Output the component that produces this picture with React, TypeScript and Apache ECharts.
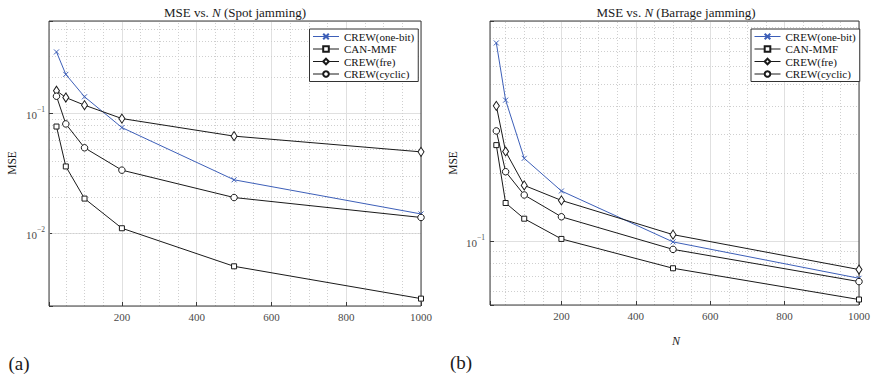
import React, { useEffect, useRef } from 'react';
import * as echarts from 'echarts';

// ---------- data ----------
const N = [25, 50, 100, 200, 500, 1000];
const seriesNames = ['CREW(one-bit)', 'CAN-MMF', 'CREW(fre)', 'CREW(cyclic)'];

// (a) Spot jamming
const spotOneBit = [0.326, 0.212, 0.138, 0.0765, 0.0281, 0.0146];
const spotCanMmf = [0.078, 0.0363, 0.0196, 0.0111, 0.00535, 0.00288];
const spotFre = [0.155, 0.136, 0.1175, 0.0909, 0.0649, 0.048];
const spotCyclic = [0.1395, 0.082, 0.0519, 0.0338, 0.02, 0.01365];

// (b) Barrage jamming
const barOneBit = [0.764, 0.425, 0.234, 0.1674, 0.0993, 0.0684];
const barCanMmf = [0.268, 0.148, 0.126, 0.1024, 0.0758, 0.055];
const barFre = [0.401, 0.251, 0.1773, 0.152, 0.107, 0.0748];
const barCyclic = [0.31, 0.204, 0.1607, 0.1285, 0.092, 0.0661];

// axis ranges and minor grid values
const xMin = [5, 8];
const xMax = [1000, 1000];
const yMin = [0.0025, 0.052];
const yMax = [0.59, 0.957];
const xMinorTicks = [50, 100, 150, 250, 300, 350, 450, 500, 550, 650, 700, 750, 850, 900, 950];
const spotMinorY = [0.003, 0.004, 0.005, 0.006, 0.007, 0.008, 0.009, 0.02, 0.03, 0.04, 0.05, 0.06, 0.07, 0.08, 0.09, 0.2, 0.3, 0.4, 0.5];
const barMinorY = [0.06, 0.07, 0.08, 0.09, 0.2, 0.3, 0.4, 0.5, 0.6, 0.7, 0.8, 0.9];

const FONT = 'Liberation Serif';
const BLUE = '#3d5fb8';
const BLACK = '#1a1a1a';
const AXIS = '#3a3a3a';
const TICKTEXT = '#4a4a4a';
const XPATH = 'path://M0,0L10,10M0,10L10,0';

const markerStyles = [
  { symbol: XPATH, size: 5, color: BLUE, fill: BLUE },
  { symbol: 'rect', size: 5, color: BLACK, fill: '#ffffff' },
  { symbol: 'diamond', size: [6, 9], color: BLACK, fill: '#ffffff' },
  { symbol: 'circle', size: 6.5, color: BLACK, fill: '#ffffff' },
];

function pow10Label(v: number): string {
  const e = Math.log10(v);
  const r = Math.round(e);
  if (Math.abs(e - r) > 1e-6) return '';
  return `{b|10}{s|${r < 0 ? '−' : ''}${Math.abs(r)}}`;
}

function makeSeries(name: string, values: number[], styleIdx: number, gridIdx: number) {
  const st = markerStyles[styleIdx];
  return {
    type: 'line',
    name,
    xAxisIndex: gridIdx,
    yAxisIndex: gridIdx,
    data: N.map((n, i) => [n, values[i]]),
    symbol: st.symbol,
    symbolSize: st.size,
    showAllSymbol: true,
    z: 3,
    lineStyle: { color: st.color, width: 1 },
    itemStyle: { color: st.fill, borderColor: st.color, borderWidth: 1 },
    emphasis: { disabled: true },
  };
}

function gridSeries(gridIdx: number, minorY: number[]) {
  return {
    type: 'line',
    name: '_minor' + gridIdx,
    xAxisIndex: gridIdx,
    yAxisIndex: gridIdx,
    data: [],
    silent: true,
    z: 1,
    markLine: {
      silent: true,
      z: 1,
      symbol: ['none', 'none'],
      label: { show: false },
      emphasis: { disabled: true },
      lineStyle: { color: '#cfcfcf', type: [1, 2], width: 1 },
      data: [
        ...xMinorTicks.map((v) => ({ xAxis: v })),
        ...minorY.map((v) => ({ yAxis: v })),
      ],
    },
  };
}

function xAxisCfg(i: number) {
  return {
    type: 'value',
    gridIndex: i,
    min: xMin[i],
    max: xMax[i],
    splitNumber: 5,
    axisLine: { show: false },
    axisTick: { show: true, inside: true, length: 4, lineStyle: { color: AXIS } },
    axisLabel: {
      margin: 5,
      color: TICKTEXT,
      fontFamily: FONT,
      fontSize: 11,
      formatter: (v: number) => (v % 200 === 0 ? String(v) : ''),
    },
    splitLine: { show: true, lineStyle: { color: '#e0e0e0', width: 1 } },
  };
}

function yAxisCfg(i: number, splitNumber: number) {
  return {
    type: 'log',
    logBase: 10,
    gridIndex: i,
    min: yMin[i],
    max: yMax[i],
    splitNumber,
    axisLine: { show: false },
    axisTick: { show: true, inside: true, length: 4, lineStyle: { color: AXIS } },
    axisLabel: {
      margin: i === 0 ? 4 : 5,
      color: TICKTEXT,
      fontFamily: FONT,
      formatter: pow10Label,
      rich: {
        b: { fontFamily: FONT, fontSize: 11, color: TICKTEXT, lineHeight: 14, verticalAlign: 'bottom' },
        s: { fontFamily: FONT, fontSize: 7.5, color: TICKTEXT, lineHeight: 14, padding: [0, 0, 7, 0], verticalAlign: 'bottom' },
      },
    },
    splitLine: { show: true, lineStyle: { color: '#e0e0e0', width: 1 } },
  };
}

function legendCfg(left: number) {
  return {
    data: seriesNames,
    orient: 'vertical',
    left,
    top: 29,
    padding: [2, 4, 2, 3],
    itemGap: 1.5,
    itemWidth: 26,
    itemHeight: 7,
    backgroundColor: '#ffffff',
    borderColor: '#333333',
    borderWidth: 1,
    borderRadius: 0,
    selectedMode: false,
    lineStyle: { width: 1 },
    textStyle: { fontFamily: FONT, fontSize: 11, color: '#111111', lineHeight: 11 },
  };
}

function titleText(x: number, kind: string) {
  return {
    type: 'text',
    x,
    y: 12,
    style: {
      text: `{a|MSE vs. }{i|N}{a| (${kind} jamming)}`,
      align: 'center',
      verticalAlign: 'middle',
      rich: {
        a: { fontFamily: FONT, fontSize: 13, fill: '#1a1a1a' },
        i: { fontFamily: FONT, fontSize: 13, fontStyle: 'italic', fill: '#1a1a1a' },
      },
    },
  };
}

function plainText(x: number, y: number, text: string, size: number, extra: any = {}) {
  return {
    type: 'text',
    x,
    y,
    ...extra,
    style: {
      text,
      fontFamily: FONT,
      fontSize: size,
      fill: '#1a1a1a',
      align: 'center',
      verticalAlign: 'middle',
      ...(extra.style || {}),
    },
  };
}

export default function App() {
  const ref = useRef<HTMLDivElement>(null);

  useEffect(() => {
    if (!ref.current) return;
    const chart = echarts.init(ref.current, null, { renderer: 'svg' });
    const option: any = {
      animation: false,
      backgroundColor: '#ffffff',
      textStyle: { fontFamily: FONT },
      grid: [
        { left: 49, top: 21, width: 372, height: 285, show: true, z: 2, backgroundColor: 'transparent', borderColor: AXIS, borderWidth: 1 },
        { left: 490, top: 21, width: 371, height: 284, show: true, z: 2, backgroundColor: 'transparent', borderColor: AXIS, borderWidth: 1 },
      ],
      xAxis: [xAxisCfg(0), xAxisCfg(1)],
      yAxis: [yAxisCfg(0, 2), yAxisCfg(1, 1)],
      legend: [legendCfg(309.5), legendCfg(751)],
      series: [
        gridSeries(0, spotMinorY),
        gridSeries(1, barMinorY),
        makeSeries(seriesNames[0], spotOneBit, 0, 0),
        makeSeries(seriesNames[1], spotCanMmf, 1, 0),
        makeSeries(seriesNames[2], spotFre, 2, 0),
        makeSeries(seriesNames[3], spotCyclic, 3, 0),
        makeSeries(seriesNames[0], barOneBit, 0, 1),
        makeSeries(seriesNames[1], barCanMmf, 1, 1),
        makeSeries(seriesNames[2], barFre, 2, 1),
        makeSeries(seriesNames[3], barCyclic, 3, 1),
      ],
      graphic: [
        titleText(235, 'Spot'),
        titleText(676, 'Barrage'),
        plainText(12, 163, 'MSE', 11.5, { rotation: Math.PI / 2 }),
        plainText(453, 163, 'MSE', 11.5, { rotation: Math.PI / 2 }),
        plainText(676, 341, 'N', 12, { style: { fontStyle: 'italic' } }),
        plainText(19, 363, '(a)', 19),
        plainText(461, 362, '(b)', 19),
      ],
    };
    chart.setOption(option);
    return () => chart.dispose();
  }, []);

  return (
    <div
      ref={ref}
      style={{ position: 'fixed', left: 0, top: 0, width: 873, height: 378, background: '#fff' }}
    />
  );
}
